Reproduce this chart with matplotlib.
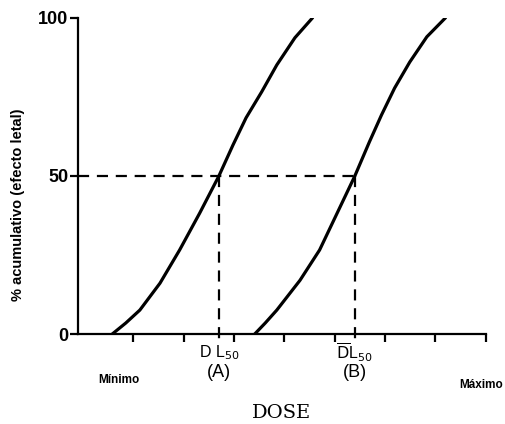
import numpy as np
import matplotlib
matplotlib.use("Agg")
import matplotlib.pyplot as plt

# Curvas dosis-respuesta (unidades arbitrarias de dosis)
dosis_a = [0.58, 0.85, 1.13, 1.53, 1.92, 2.32, 2.70, 2.98, 3.24, 3.55, 3.85, 4.21, 4.56]
efecto_a = [0, 3.5, 7.6, 16.1, 26.6, 38.3, 50, 59.8, 68.4, 76.6, 85.1, 93.7, 100]
dosis_b = [3.41, 3.62, 3.85, 4.31, 4.70, 5.05, 5.40, 5.69, 5.93, 6.19, 6.49, 6.83, 7.20]
efecto_b = [0, 3.5, 7.6, 17.0, 26.6, 38.3, 50, 60.8, 69.3, 77.8, 86, 94, 100]

dl50_a = 2.70
dl50_b = 5.40
y_ticks = [0, 50, 100]
x_ticks = [1, 2, 3, 4, 5, 6, 7, 8]

fig = plt.figure(figsize=(5.06, 4.24), dpi=100)
ax = fig.add_axes([0.154, 0.212, 0.806, 0.746])

ax.plot(dosis_a, efecto_a, color="black", linewidth=2.3, solid_capstyle="round",
        solid_joinstyle="round")
ax.plot(dosis_b, efecto_b, color="black", linewidth=2.3, solid_capstyle="round",
        solid_joinstyle="round")

# líneas de DL50
ax.plot([-0.1, dl50_b], [50, 50], color="black", linewidth=1.6, dashes=(5, 3.5))
for d in (dl50_a, dl50_b):
    ax.plot([d, d], [50, -3], color="black", linewidth=1.6, dashes=(5, 3.5),
            clip_on=False)

ax.set_xlim(-0.1, 8)
ax.set_ylim(0, 100)

for s in ("top", "right"):
    ax.spines[s].set_visible(False)
for s in ("left", "bottom"):
    ax.spines[s].set_linewidth(1.6)

ax.set_yticks(y_ticks)
ax.set_yticklabels([str(v) for v in y_ticks], fontsize=13, fontweight="bold",
                   family="Liberation Sans")
ax.set_xticks(x_ticks)
ax.set_xticklabels([])
ax.tick_params(axis="y", direction="out", length=6, width=1.6, pad=1)
ax.tick_params(axis="x", direction="out", length=6, width=1.6)

ax.set_ylabel("% acumulativo (efecto letal)", fontsize=10.5, fontweight="bold",
              family="Liberation Sans")
ax.yaxis.set_label_coords(-0.13, 0.41)

trans = ax.get_xaxis_transform()
ax.text(dl50_a, -0.06, r"D L$_{50}$", transform=trans, ha="center", va="center",
        fontsize=11.5, family="Liberation Sans")
ax.text(dl50_a, -0.12, "(A)", transform=trans, ha="center", va="center",
        fontsize=13, family="Liberation Sans")
ax.text(dl50_b, -0.06, r"$\overline{\mathrm{D}}$L$_{50}$", transform=trans,
        ha="center", va="center", fontsize=11.5, family="Liberation Sans")
ax.text(dl50_b, -0.12, "(B)", transform=trans, ha="center", va="center",
        fontsize=13, family="Liberation Sans")
ax.text(0.72, -0.145, "Mínimo", transform=trans, ha="center", va="center",
        fontsize=8.5, fontweight="bold", family="Liberation Sans")
ax.text(7.9, -0.16, "Máximo", transform=trans, ha="center", va="center",
        fontsize=8.5, fontweight="bold", family="Liberation Sans")
ax.text(3.95, -0.25, "DOSE", transform=trans, ha="center", va="center",
        fontsize=14, family="DejaVu Serif")

fig.savefig("out.png", dpi=100)
